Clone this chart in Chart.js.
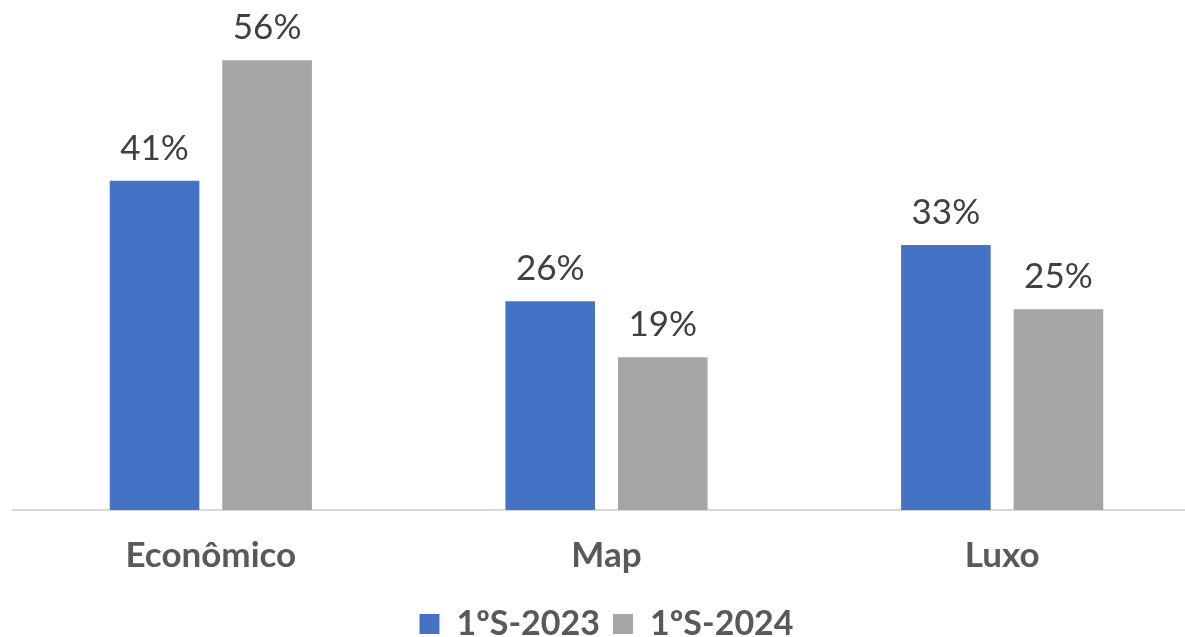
<!DOCTYPE html>
<html>
<head>
<meta charset="utf-8">
<script src="https://cdn.jsdelivr.net/npm/chart.js@4"></script>
<style>
    html, body { margin: 0; padding: 0; background: #fff; overflow: hidden; }
    #wrap { width: 1185px; height: 637px; overflow: hidden; }
    #box { width: 1200px; height: 637px; }
</style>
</head>
<body>
<div id="wrap"><div id="box"><canvas id="chart"></canvas></div></div>
<script>
// 数据
const categories = ['Econômico', 'Map', 'Luxo'];
const seriesNames = ['1ºS-2023', '1ºS-2024'];
const values2023 = [41, 26, 33];
const values2024 = [56, 19, 25];

const FONT = 'Lato, "Open Sans", sans-serif';

// 柱顶数值标签
const valueLabels = {
    id: 'valueLabels',
    afterDatasetsDraw(chart) {
        const ctx = chart.ctx;
        ctx.save();
        ctx.font = '35px ' + FONT;
        ctx.fillStyle = '#404040';
        ctx.textAlign = 'center';
        ctx.textBaseline = 'alphabetic';
        chart.data.datasets.forEach((ds, i) => {
            chart.getDatasetMeta(i).data.forEach((bar, j) => {
                ctx.fillText(ds.data[j] + '%', bar.x, bar.y - 21);
            });
        });
        ctx.restore();
    }
};

new Chart(document.getElementById('chart'), {
    type: 'bar',
    data: {
        labels: categories,
        datasets: [{
            label: seriesNames[0],
            data: values2023,
            backgroundColor: '#4472C4'
        }, {
            label: seriesNames[1],
            data: values2024,
            backgroundColor: '#A5A5A5'
        }]
    },
    options: {
        responsive: true,
        maintainAspectRatio: false,
        animation: false,
        categoryPercentage: 0.569,
        barPercentage: 0.796,
        layout: {
            padding: { left: 13, right: 0, top: 28, bottom: -14 }
        },
        plugins: {
            legend: {
                position: 'bottom',
                labels: {
                    boxWidth: 20,
                    boxHeight: 20,
                    padding: 13,
                    color: '#595959',
                    font: { family: FONT, size: 34, weight: 'bold' }
                }
            },
            tooltip: { enabled: false }
        },
        scales: {
            x: {
                grid: { display: false },
                border: { color: '#D9D9D9', width: 2 },
                ticks: {
                    color: '#595959',
                    padding: 31,
                    font: { family: FONT, size: 35, weight: 'bold', lineHeight: 0.4 }
                }
            },
            y: {
                display: false,
                min: 0,
                max: 60
            }
        }
    },
    plugins: [valueLabels]
});
</script>
</body>
</html>
